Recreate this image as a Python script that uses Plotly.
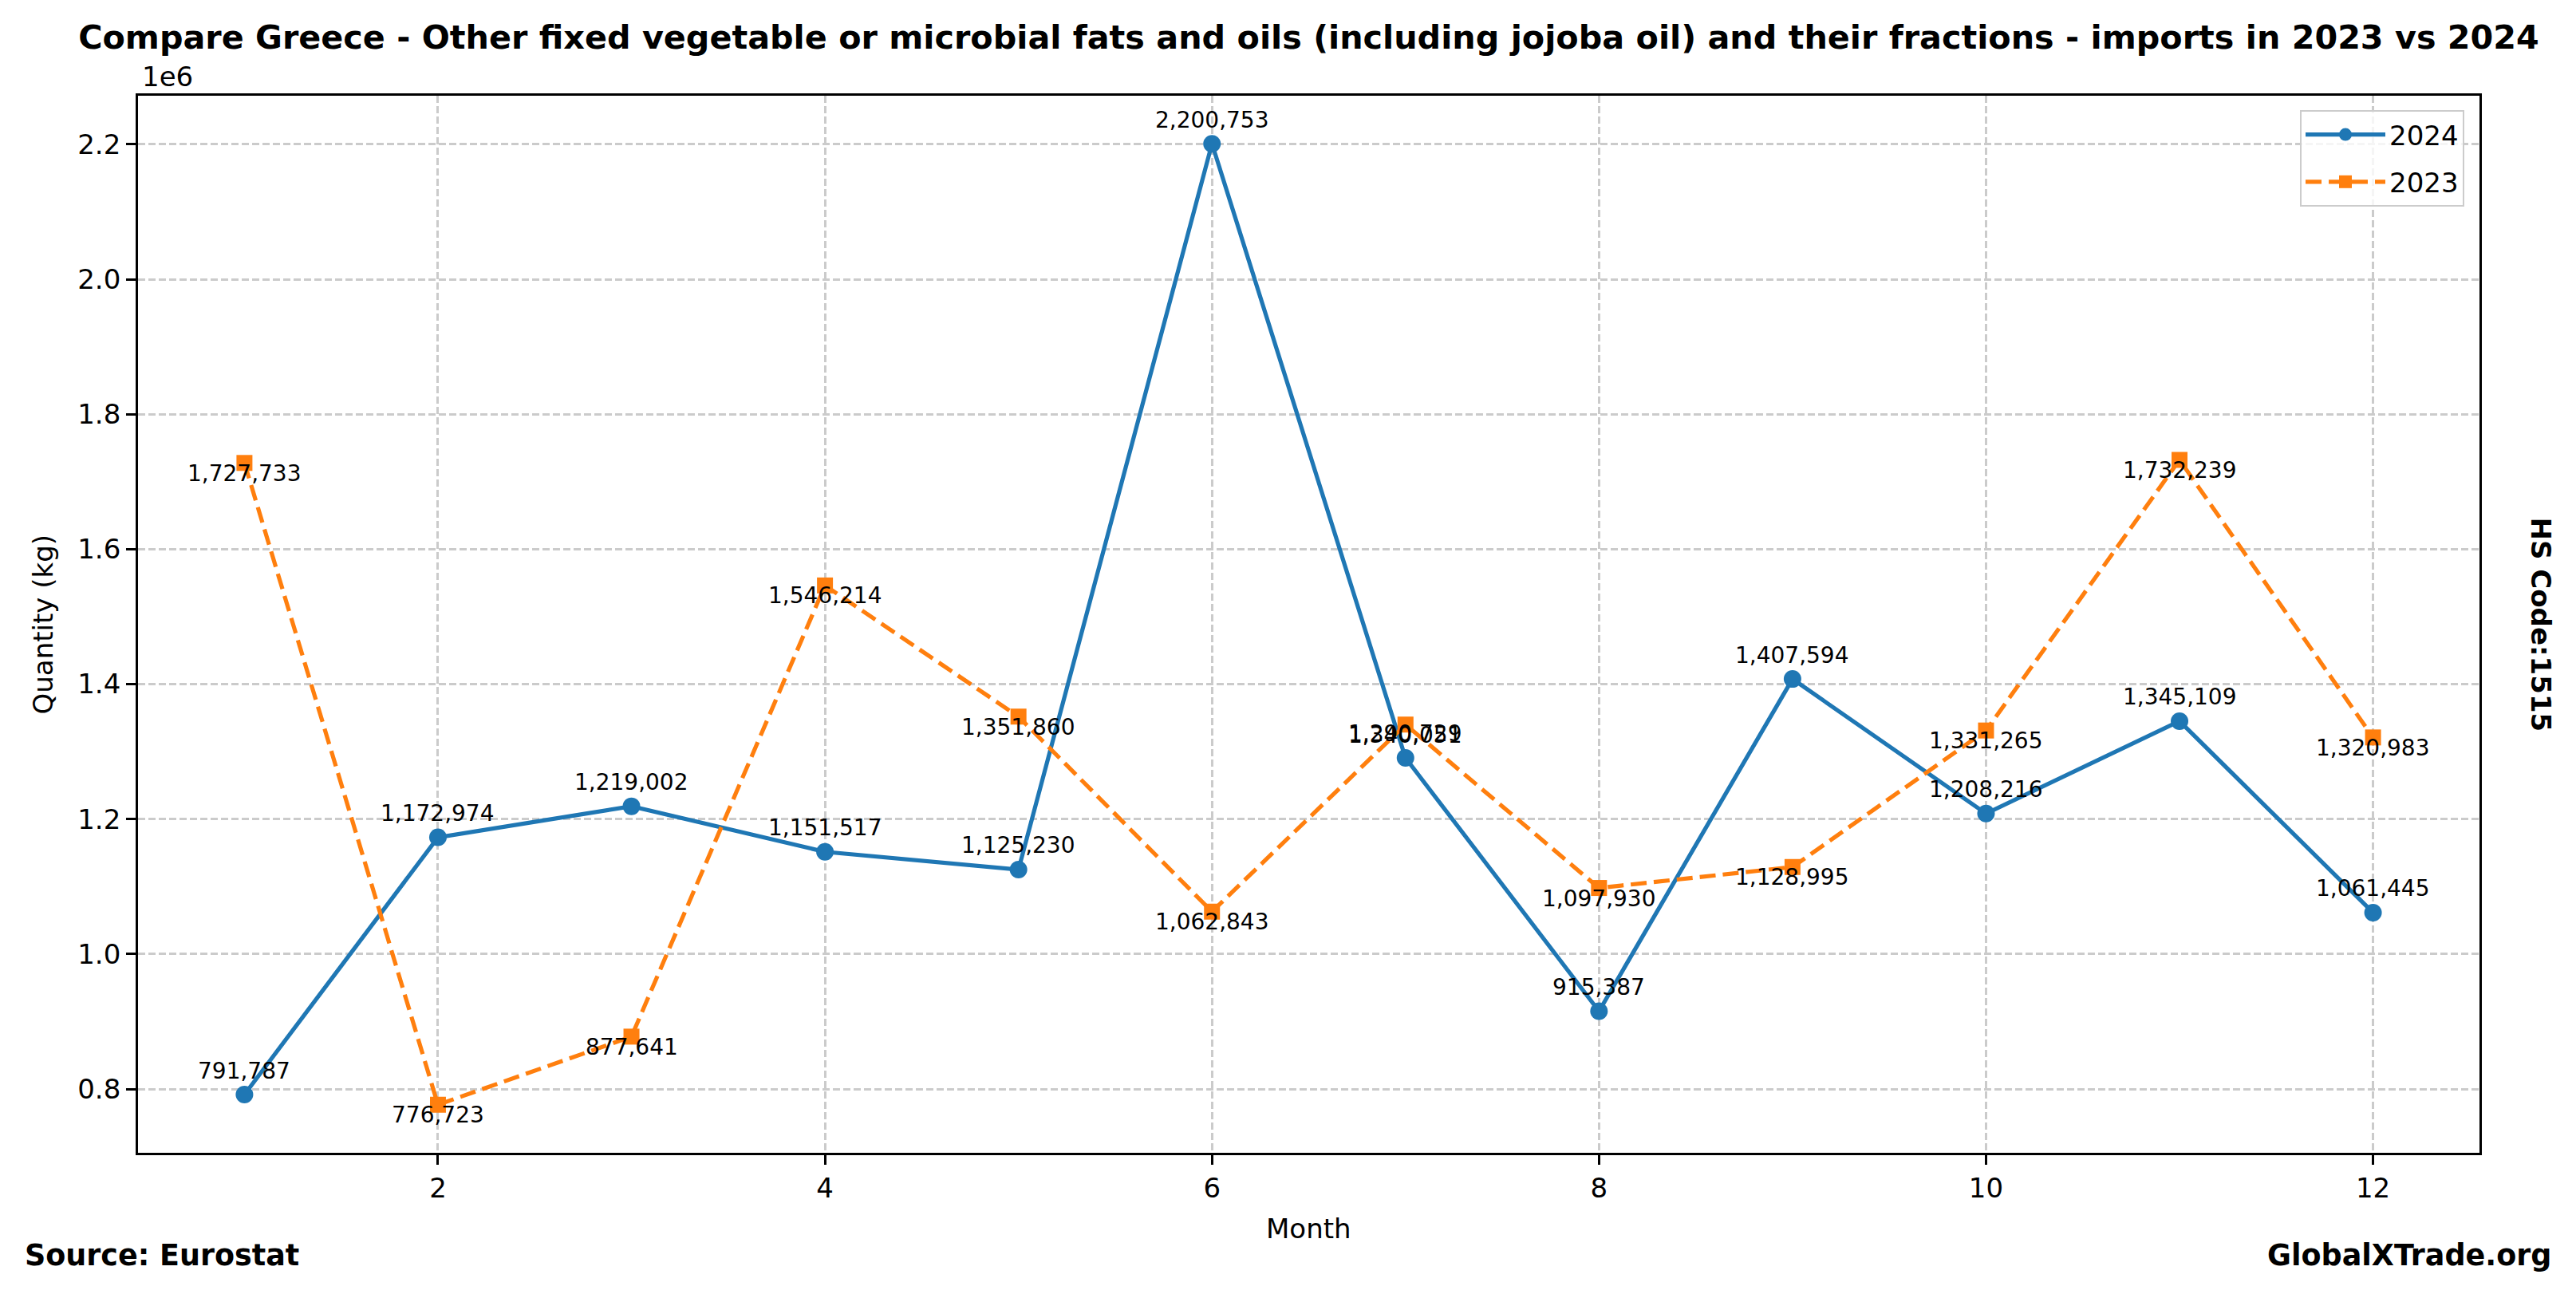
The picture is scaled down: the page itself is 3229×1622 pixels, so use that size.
import plotly.graph_objects as go

months = [1, 2, 3, 4, 5, 6, 7, 8, 9, 10, 11, 12]
values_2024 = [791787, 1172974, 1219002, 1151517, 1125230, 2200753, 1290729,
               915387, 1407594, 1208216, 1345109, 1061445]
values_2023 = [1727733, 776723, 877641, 1546214, 1351860, 1062843, 1340051,
               1097930, 1128995, 1331265, 1732239, 1320983]
x_ticks = [2, 4, 6, 8, 10, 12]
y_ticks = [800000, 1000000, 1200000, 1400000, 1600000, 1800000, 2000000, 2200000]
y_tick_labels = ["0.8", "1.0", "1.2", "1.4", "1.6", "1.8", "2.0", "2.2"]

title = ("Compare Greece - Other fixed vegetable or microbial fats and oils "
         "(including jojoba oil) and their fractions - imports in 2023 vs 2024")

# page has an 8px body margin; compensate so the figure lands where the reference is
OFF = 8
PAGE_W, PAGE_H = 3229, 1622
W, H = PAGE_W - OFF, PAGE_H - OFF
AX_L, AX_R, AX_T, AX_B = 173, 3108, 120, 1445  # page pixel positions of the axes box
L, T = AX_L - OFF, AX_T - OFF
R, B = PAGE_W - AX_R, PAGE_H - AX_B
PW, PH = AX_R - AX_L, AX_B - AX_T
FONT = "DejaVu Sans"
BLUE, ORANGE = "#1f77b4", "#ff7f0e"

fig = go.Figure()
fig.add_trace(go.Scatter(
    x=months, y=values_2024, name="2024", mode="lines+markers", legendgroup="a",
    line=dict(color=BLUE, width=5.2),
    marker=dict(symbol="circle", size=22, color=BLUE),
))
fig.add_trace(go.Scatter(
    x=months, y=values_2023, name="2023", mode="lines+markers", legendgroup="b",
    line=dict(color=ORANGE, width=5.2, dash="20px,9px"),
    marker=dict(symbol="square", size=20, color=ORANGE),
))

ann = []
for m, v in zip(months, values_2024):
    ann.append(dict(x=m, y=v, xref="x", yref="y", text=f"{v:,}", showarrow=False,
                    xanchor="center", yanchor="middle", yshift=30,
                    font=dict(family=FONT, size=28, color="black")))
for m, v in zip(months, values_2023):
    ann.append(dict(x=m, y=v, xref="x", yref="y", text=f"{v:,}", showarrow=False,
                    xanchor="center", yanchor="middle", yshift=-13,
                    font=dict(family=FONT, size=28, color="black")))


def px_x(px):
    return (px - AX_L) / PW


def px_y(py):
    return (AX_B - py) / PH


ann += [
    dict(x=px_x(176), y=px_y(96), xref="paper", yref="paper", text="1e6",
         showarrow=False, xanchor="left", yanchor="middle",
         font=dict(family=FONT, size=34, color="black")),
    dict(x=px_x(53), y=0.5, xref="paper", yref="paper", text="Quantity (kg)",
         showarrow=False, textangle=-90, xanchor="center", yanchor="middle",
         font=dict(family=FONT, size=34, color="black")),
    dict(x=0.5, y=px_y(1540), xref="paper", yref="paper", text="Month",
         showarrow=False, xanchor="center", yanchor="middle",
         font=dict(family=FONT, size=34, color="black")),
    dict(x=px_x(29), y=px_y(1573), xref="paper", yref="paper", text="<b>Source: Eurostat</b>",
         showarrow=False, xanchor="left", yanchor="middle",
         font=dict(family=FONT, size=36.5, color="black")),
    dict(x=px_x(3200), y=px_y(1573), xref="paper", yref="paper", text="<b>GlobalXTrade.org</b>",
         showarrow=False, xanchor="right", yanchor="middle",
         font=dict(family=FONT, size=36.5, color="black")),
    dict(x=px_x(3185), y=0.5, xref="paper", yref="paper", text="<b>HS Code:1515</b>",
         showarrow=False, textangle=90, xanchor="center", yanchor="middle",
         font=dict(family=FONT, size=34, color="black")),
]

axis_common = dict(
    showline=True, linecolor="black", linewidth=2.8, mirror=True,
    ticks="outside", ticklen=12, tickwidth=2.8, tickcolor="black",
    showgrid=True, gridcolor="#cbcbcb", gridwidth=2.6, griddash="9px,4px",
    zeroline=False, tickfont=dict(family=FONT, size=34, color="black"),
)

fig.update_layout(
    width=W, height=H,
    margin=dict(l=L, r=R, t=T, b=B, autoexpand=False),
    paper_bgcolor="white", plot_bgcolor="white",
    font=dict(family=FONT, color="black"),
    title=dict(text=f"<b>{title}</b>", x=0.5, xref="paper", xanchor="center",
               y=1 - (47 - OFF) / H, yref="container", yanchor="middle",
               font=dict(family=FONT, size=41.3, color="black")),
    xaxis=dict(range=[0.45, 12.55], tickvals=x_ticks, **axis_common),
    yaxis=dict(range=[705500, 2271900], tickvals=y_ticks, ticktext=y_tick_labels,
               **axis_common),
    legend=dict(x=px_x(3089), y=px_y(138), xanchor="right", yanchor="top",
                bgcolor="rgba(255,255,255,0.8)", bordercolor="#cccccc", borderwidth=2,
                font=dict(family=FONT, size=34, color="black"),
                itemwidth=100, tracegroupgap=12),
    annotations=ann,
    showlegend=True,
)

fig.write_html("out.html")
